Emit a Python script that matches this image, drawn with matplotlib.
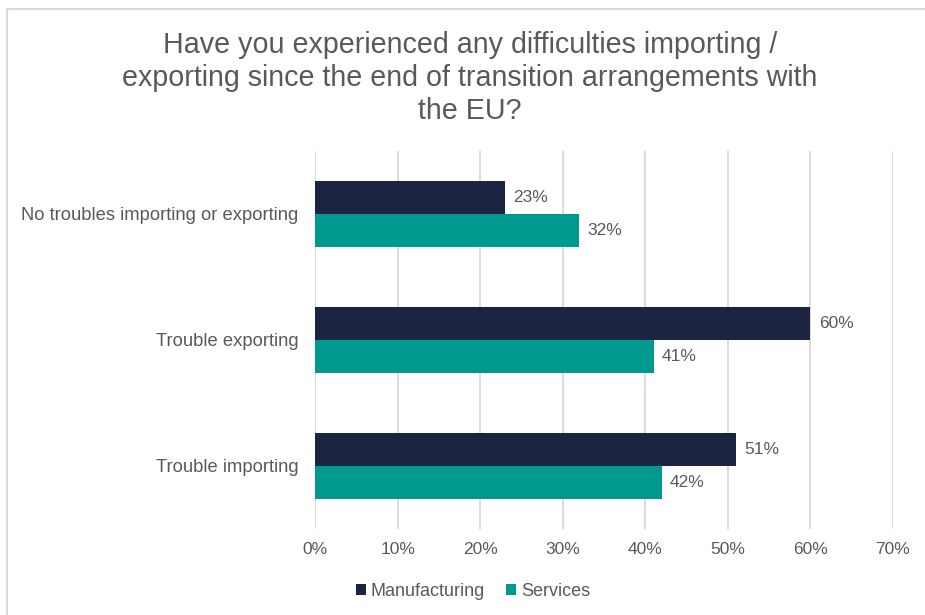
import matplotlib.pyplot as plt
import numpy as np
from matplotlib.patches import Rectangle

plt.rcParams['font.family'] = ['Liberation Sans', 'DejaVu Sans']

# Svar per kategori (andel av bedrifter)
categories = ["No troubles importing or exporting", "Trouble exporting", "Trouble importing"]
manufacturing = [23, 60, 51]
services = [32, 41, 42]
xticks = [0, 10, 20, 30, 40, 50, 60, 70]

navy = "#1b2440"
teal = "#00998f"
grey = "#595959"

fig = plt.figure(figsize=(9.25, 6.15), dpi=100)

# Ramme rundt diagrammet
fig.patches.append(Rectangle((7 / 925, -0.01), 1.0, 1 - 9 / 615 + 0.01,
                             transform=fig.transFigure, fill=False,
                             edgecolor="#d9d9d9", linewidth=1.5))

ax = fig.add_axes([315 / 925, 1 - 529 / 615, (893 - 315) / 925, (529 - 151) / 615])

y = np.arange(len(categories))
h = 0.258
ax.barh(y - h / 2, manufacturing, height=h, color=navy, label="Manufacturing", zorder=3)
ax.barh(y + h / 2, services, height=h, color=teal, label="Services", zorder=3)

for i in range(len(categories)):
    ax.text(manufacturing[i] + 1.0, y[i] - h / 2, f"{manufacturing[i]}%", va="center",
            ha="left", fontsize=12.5, color=grey)
    ax.text(services[i] + 1.0, y[i] + h / 2, f"{services[i]}%", va="center",
            ha="left", fontsize=12.5, color=grey)

ax.set_ylim(2.5, -0.5)
ax.set_xlim(0, 70)
ax.set_yticks(y)
ax.set_yticklabels(categories, fontsize=13.2, color=grey)
ax.set_xticks(xticks)
ax.set_xticklabels([f"{t}%" for t in xticks], fontsize=12.5, color=grey)
ax.tick_params(axis="x", length=0, pad=9)
ax.tick_params(axis="y", length=0, pad=12)
ax.grid(axis="x", color="#d9d9d9", linewidth=1.3, zorder=0)
for s in ax.spines.values():
    s.set_visible(False)

fig.text(470 / 925, 1 - 78 / 615,
         "Have you experienced any difficulties importing /\n"
         "exporting since the end of transition arrangements with\n"
         "the EU?", ha="center", va="center", fontsize=20.6, color=grey,
         linespacing=1.22)

leg = fig.legend(loc="center", bbox_to_anchor=(473 / 925, 1 - 591 / 615), ncol=2,
                 frameon=False, fontsize=13, handlelength=0.55, handleheight=0.55,
                 handletextpad=0.25, columnspacing=1.2)
for t in leg.get_texts():
    t.set_color(grey)

fig.savefig("out.png", dpi=100)
